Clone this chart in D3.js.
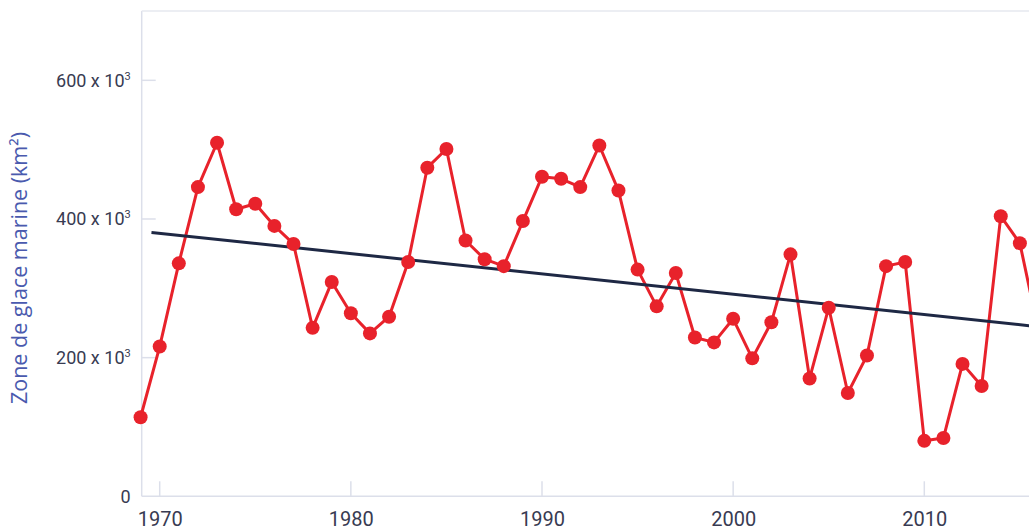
<!DOCTYPE html>
<html><head><meta charset="utf-8">
<script src="https://cdn.jsdelivr.net/npm/d3@7"></script>
<style>
html,body{margin:0;padding:0;background:#fff;overflow:hidden;}
svg{display:block;font-family:Roboto,"Noto Sans",sans-serif;}
</style></head><body>
<svg id="c" width="1029" height="532"></svg>
<script>
const years = [1969,1970,1971,1972,1973,1974,1975,1976,1977,1978,1979,1980,1981,1982,1983,1984,1985,1986,1987,1988,1989,1990,1991,1992,1993,1994,1995,1996,1997,1998,1999,2000,2001,2002,2003,2004,2005,2006,2007,2008,2009,2010,2011,2012,2013,2014,2015,2016];
const iceArea = [114,216,336,446,510,414,422,390,364,243,309,264,235,259,338,474,501,369,342,332,397,461,458,446,506,441,327,274,322,229,222,256,199,251,349,170,272,149,203,332,338,80,84,191,159,404,365,235]; // x 10^3 km²
const trendYears = [1969.57, 2020];
const trendValues = [380.6, 232.8];
const yTicks = [0,200,400,600];
const yTickBase = ["0","200 x 10","400 x 10","600 x 10"];
const yTickSup = ["","3","3","3"];
const xTicks = [1970,1980,1990,2000,2010];
const yTitle = "Zone de glace marine (km²)";

(function(){
const svg = d3.select("#c");
const pLeft = 141.7, pTop = 11, pBottom = 496.3;
const x = d3.scaleLinear().domain([1970,2010]).range([159.7,924.3]);
const y = d3.scaleLinear().domain([0,700]).range([pBottom, pTop]);
const xRight = x(2021);
const txtCol = "#383b52";
const gridCol = "#dcdfea";
svg.append("line").attr("x1",pLeft).attr("x2",pLeft).attr("y1",pTop).attr("y2",pBottom).attr("stroke",gridCol).attr("stroke-width",1.5);
svg.append("line").attr("x1",pLeft).attr("x2",xRight).attr("y1",pTop).attr("y2",pTop).attr("stroke","#e6e8ef").attr("stroke-width",1.5);
svg.append("line").attr("x1",pLeft).attr("x2",xRight).attr("y1",pBottom).attr("y2",pBottom).attr("stroke",gridCol).attr("stroke-width",1.5);

const yAxis = d3.axisLeft(y).tickValues(yTicks).tickSize(0).tickFormat(()=> "");
const yg = svg.append("g").attr("transform",`translate(${pLeft},0)`).call(yAxis);
yg.select(".domain").remove();
yg.selectAll(".tick text").each(function(d,i){
  const t = d3.select(this).attr("x",-11).attr("font-size",18).attr("fill",txtCol).attr("font-family","Roboto,'Noto Sans',sans-serif");
  t.append("tspan").text(yTickBase[i]);
  if (yTickSup[i]) t.append("tspan").attr("font-size",11).attr("dy",-7).text(yTickSup[i]);
});
svg.selectAll(".ytk").data(yTicks.filter(d=>d>0)).enter().append("line")
  .attr("x1",pLeft).attr("x2",pLeft+14).attr("y1",d=>y(d)).attr("y2",d=>y(d)).attr("stroke",gridCol).attr("stroke-width",1.5);

const xAxis = d3.axisBottom(x).tickValues(xTicks).tickSize(0).tickFormat(d3.format("d"));
const xg = svg.append("g").attr("transform",`translate(0,${pBottom})`).call(xAxis);
xg.select(".domain").remove();
xg.selectAll("text").attr("y",16).attr("font-size",20).attr("fill",txtCol).attr("font-family","Roboto,'Noto Sans',sans-serif");
svg.selectAll(".xtk").data(xTicks).enter().append("line")
  .attr("x1",d=>x(d)).attr("x2",d=>x(d)).attr("y1",pBottom-15).attr("y2",pBottom).attr("stroke",gridCol).attr("stroke-width",1.5);

svg.append("text").attr("transform","translate(26.5,268) rotate(-90)").attr("text-anchor","middle")
  .attr("font-family","'Open Sans',Roboto,sans-serif")
  .attr("font-size",21.5).attr("fill","#4a5aae").text(yTitle);

const data = years.map((yr,i)=>({yr, v:iceArea[i]}));
const line = d3.line().x(d=>x(d.yr)).y(d=>y(d.v));
svg.append("path").datum(data).attr("d",line).attr("fill","none").attr("stroke","#e8222b").attr("stroke-width",3).attr("stroke-linejoin","round");

const trend = trendYears.map((yr,i)=>({yr, v:trendValues[i]}));
svg.append("path").datum(trend).attr("d",line).attr("fill","none").attr("stroke","#1e2844").attr("stroke-width",3);

svg.selectAll(".pt").data(data).enter().append("circle")
  .attr("cx",d=>x(d.yr)).attr("cy",d=>y(d.v)).attr("r",7).attr("fill","#e8222b");
})();
</script>
</body></html>
